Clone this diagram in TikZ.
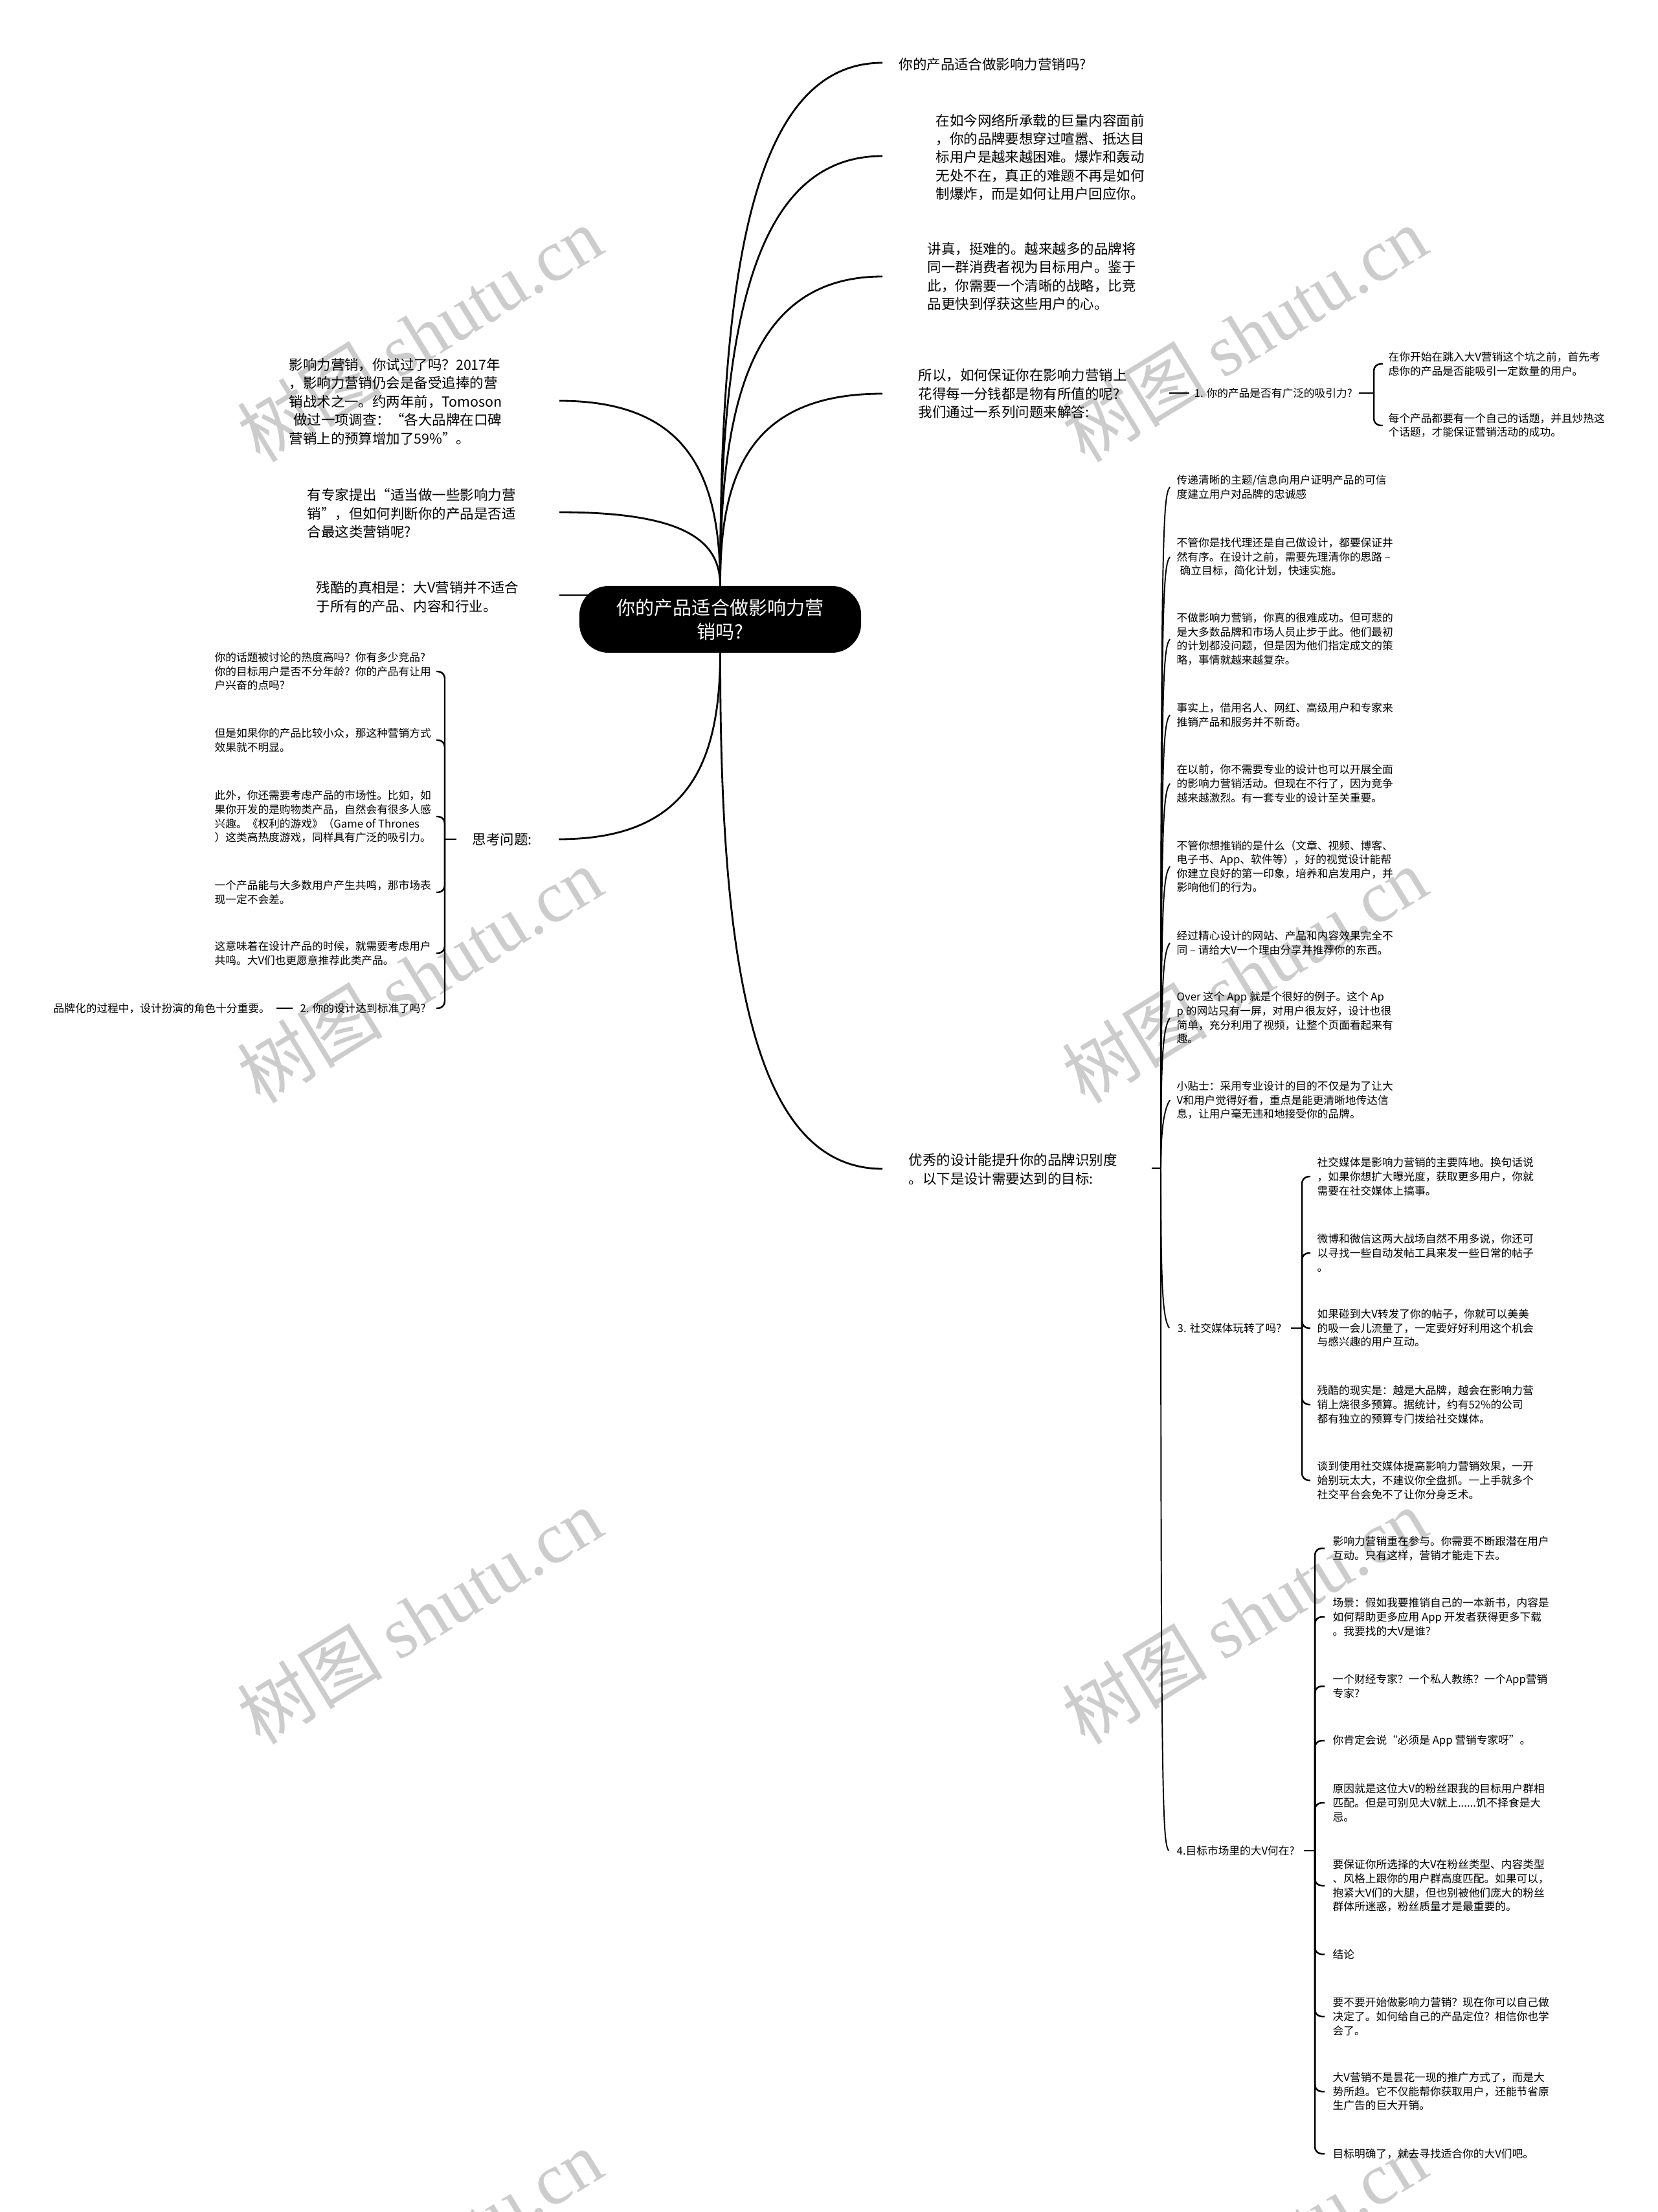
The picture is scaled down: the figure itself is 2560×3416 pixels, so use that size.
\documentclass[tikz,border=0pt]{standalone}
\usepackage{fontspec}
\setmainfont{Noto Sans CJK SC}
\newfontfamily\wmserif{Liberation Serif}
\usetikzlibrary{calc}
\begin{document}
\begin{tikzpicture}[x=0.01cm,y=-0.01cm,
  lvone/.style={anchor=west, inner sep=0pt, align=left, font=\fontsize{6.1pt}{8.1pt}\selectfont},
  lvthree/.style={anchor=west, inner sep=0pt, align=left, font=\fontsize{4.75pt}{6.15pt}\selectfont},
  pill/.style={fill=black, text=white, rounded corners=12.8pt, minimum width=4.35cm, minimum height=1.03cm, inner sep=0pt, align=center, font=\fontsize{8.25pt}{10.5pt}\selectfont},
  mainline/.style={line width=0.8pt},
  twoline/.style={line width=0.75pt},
  bracel/.style={line width=0.7pt, rounded corners=3pt},
  thincurve/.style={line width=0.55pt},
  wmk/.style={text=black!20, inner sep=0pt, rotate=31.5, font=\fontsize{32pt}{32pt}\selectfont}
]
\fill[white] (0,0) rectangle (2560,3416);
\useasboundingbox (0,0) rectangle (2560,3416);

% watermarks
\foreach \wy in {516,1506,2496,3486}{
  \node[wmk] at (648,\wy) {树图 {\wmserif shutu.cn}};
  \node[wmk] at (1922,\wy) {树图 {\wmserif shutu.cn}};
}

% central node
\node[pill] (C) at (1112.5,956.5) {你的产品适合做影响力营\\销吗?};

% right level one
\node[lvone] (R1) at (1388,99) {你的产品适合做影响力营销吗?};
\node[lvone] (R2) at (1445,243) {在如今网络所承载的巨量内容面前\\，你的品牌要想穿过喧嚣、抵达目\\标用户是越来越困难。爆炸和轰动\\无处不在，真正的难题不再是如何\\制爆炸，而是如何让用户回应你。};
\node[lvone] (R3) at (1432,427) {讲真，挺难的。越来越多的品牌将\\同一群消费者视为目标用户。鉴于\\此，你需要一个清晰的战略，比竞\\品更快到俘获这些用户的心。};
\node[lvone] (R4) at (1418,608) {所以，如何保证你在影响力营销上\\花得每一分钱都是物有所值的呢?\\我们通过一系列问题来解答:};
\node[lvone] (R5) at (1403,1806) {优秀的设计能提升你的品牌识别度\\。以下是设计需要达到的目标:};

% left level one
\node[lvone] (L1) at (446,620) {影响力营销，你试过了吗？2017年\\，影响力营销仍会是备受追捧的营\\销战术之一。约两年前，Tomoson\\\hspace*{0.3em}做过一项调查：“各大品牌在口碑\\营销上的预算增加了59\%”。};
\node[lvone] (L2) at (474,793) {有专家提出“适当做一些影响力营\\销”，但如何判断你的产品是否适\\合最这类营销呢?};
\node[lvone] (L3) at (488,922) {残酷的真相是：大V营销并不适合\\于所有的产品、内容和行业。};
\node[lvone] (L4) at (729,1296) {思考问题:};

% curve ends
\coordinate (eR1) at ($(R1.west)+(-25,-2)$);
\coordinate (eR2) at ($(R2.west)+(-82,-2)$);
\coordinate (eR3) at ($(R3.west)+(-69,0)$);
\coordinate (eR4) at ($(R4.west)+(-55,0)$);
\coordinate (eR5) at ($(R5.west)+(-40,-1)$);
\coordinate (eL1) at ($(L1.west)+(418,-1)$);
\coordinate (eL2) at ($(L2.west)+(390,-2)$);
\coordinate (eL3) at ($(L3.west)+(376,-3)$);
\coordinate (eL4) at ($(L4.west)+(134,0)$);

\draw[mainline] (C.north) .. controls (1112,420) and (1162,97) .. (eR1);
\draw[mainline] (C.north) .. controls (1112,507) and (1162,241) .. (eR2);
\draw[mainline] (C.north) .. controls (1112,618) and (1162,427) .. (eR3);
\draw[mainline] (C.north) .. controls (1112,727) and (1162,608) .. (eR4);
\draw[mainline] (C.north) .. controls (1112,733) and (1062,619) .. (eL1);
\draw[mainline] (C.north) .. controls (1112,837) and (1062,791) .. (eL2);
\draw[mainline] (eL3) -- ($(C.west|-eL3)+(25,0)$);
\draw[mainline] (C.south) .. controls (1112,1181) and (1062,1296) .. (eL4);
\draw[mainline] (C.south) .. controls (1112,1486) and (1162,1805) .. (eR5);

% --- branch 1 (under R4)
\node[lvthree] (N1) at (1844,607) {1. 你的产品是否有广泛的吸引力?};
\node[lvthree] (N1a) at (2144,562) {在你开始在跳入大V营销这个坑之前，首先考\\虑你的产品是否能吸引一定数量的用户。};
\node[lvthree] (N1b) at (2144,657) {每个产品都要有一个自己的话题，并且炒热这\\个话题，才能保证营销活动的成功。};
\coordinate (j1) at (2122,607);
\draw[twoline] ($(R4.west)+(388,-1)$) -- ($(N1.west)+(-7,0)$);
\draw[twoline] ($(N1.east)+(10,0)$) -- (j1);
\foreach \c in {N1a,N1b} \draw[bracel] (j1) |- ($(\c.west)+(-8,0)$);

% --- design list (under R5)
\coordinate (j5) at (1793,1804);
\draw[twoline] ($(R5.west)+(376,-2)$) -- (j5);
\node[lvthree] (D1) at (1817,752) {传递清晰的主题/信息向用户证明产品的可信\\度建立用户对品牌的忠诚感};
\node[lvthree] (D2) at (1817,860) {不管你是找代理还是自己做设计，都要保证井\\然有序。在设计之前，需要先理清你的思路 –\\\hspace*{0.3em}确立目标，简化计划，快速实施。};
\node[lvthree] (D3) at (1817,987) {不做影响力营销，你真的很难成功。但可悲的\\是大多数品牌和市场人员止步于此。他们最初\\的计划都没问题，但是因为他们指定成文的策\\略，事情就越来越复杂。};
\node[lvthree] (D4) at (1817,1104) {事实上，借用名人、网红、高级用户和专家来\\推销产品和服务并不新奇。};
\node[lvthree] (D5) at (1817,1210) {在以前，你不需要专业的设计也可以开展全面\\的影响力营销活动。但现在不行了，因为竞争\\越来越激烈。有一套专业的设计至关重要。};
\node[lvthree] (D6) at (1817,1338) {不管你想推销的是什么（文章、视频、博客、\\电子书、App、软件等），好的视觉设计能帮\\你建立良好的第一印象，培养和启发用户，并\\影响他们的行为。};
\node[lvthree] (D7) at (1817,1456) {经过精心设计的网站、产品和内容效果完全不\\同 – 请给大V一个理由分享并推荐你的东西。};
\node[lvthree] (D8) at (1817,1572) {Over 这个 App 就是个很好的例子。这个 Ap\\p 的网站只有一屏，对用户很友好，设计也很\\简单，充分利用了视频，让整个页面看起来有\\趣。};
\node[lvthree] (D9) at (1817,1699) {小贴士：采用专业设计的目的不仅是为了让大\\V和用户觉得好看，重点是能更清晰地传达信\\息，让用户毫无违和地接受你的品牌。};
\foreach \k in {1,...,9}{
  \draw[thincurve] (j5) .. controls ($(j5|-D\k.west)+(0,60)$) and ($(j5|-D\k.west)+(3,16)$) .. ($(D\k.west)+(-10,0)$);
}

% --- social media
\node[lvthree] (S0) at (1818,2051) {3. 社交媒体玩转了吗?};
\node[lvthree] (T0) at (1817,2858) {4.目标市场里的大V何在?};
\foreach \c in {S0,T0}{
  \draw[thincurve] (j5) .. controls ($(j5|-\c.west)+(0,-60)$) and ($(j5|-\c.west)+(3,-16)$) .. ($(\c.west)+(-12,0)$);
}
\coordinate (j3) at (2011,2051);
\draw[twoline] ($(S0.east)+(14,0)$) -- (j3);
\node[lvthree] (S1) at (2034,1817) {社交媒体是影响力营销的主要阵地。换句话说\\，如果你想扩大曝光度，获取更多用户，你就\\需要在社交媒体上搞事。};
\node[lvthree] (S2) at (2034,1935) {微博和微信这两大战场自然不用多说，你还可\\以寻找一些自动发帖工具来发一些日常的帖子\\。};
\node[lvthree] (S3) at (2034,2051) {如果碰到大V转发了你的帖子，你就可以美美\\的吸一会儿流量了，一定要好好利用这个机会\\与感兴趣的用户互动。};
\node[lvthree] (S4) at (2034,2169) {残酷的现实是：越是大品牌，越会在影响力营\\销上烧很多预算。据统计，约有52\%的公司\\都有独立的预算专门拨给社交媒体。};
\node[lvthree] (S5) at (2034,2286) {谈到使用社交媒体提高影响力营销效果，一开\\始别玩太大，不建议你全盘抓。一上手就多个\\社交平台会免不了让你分身乏术。};
\foreach \k in {1,...,5} \draw[bracel] (j3) |- ($(S\k.west)+(-10,0)$);

% --- target market
\coordinate (j4) at (2031,2858);
\draw[twoline] ($(T0.east)+(14,0)$) -- (j4);
\node[lvthree] (T1) at (2058,2391) {影响力营销重在参与。你需要不断跟潜在用户\\互动。只有这样，营销才能走下去。};
\node[lvthree] (T2) at (2058,2497) {场景：假如我要推销自己的一本新书，内容是\\如何帮助更多应用 App 开发者获得更多下载\\。我要找的大V是谁?};
\node[lvthree] (T3) at (2058,2604) {一个财经专家？一个私人教练？一个App营销\\专家?};
\node[lvthree] (T4) at (2058,2688) {你肯定会说“必须是 App 营销专家呀”。};
\node[lvthree] (T5) at (2058,2784) {原因就是这位大V的粉丝跟我的目标用户群相\\匹配。但是可别见大V就上......饥不择食是大\\忌。};
\node[lvthree] (T6) at (2058,2912) {要保证你所选择的大V在粉丝类型、内容类型\\、风格上跟你的用户群高度匹配。如果可以，\\抱紧大V们的大腿，但也别被他们庞大的粉丝\\群体所迷惑，粉丝质量才是最重要的。};
\node[lvthree] (T7) at (2058,3018) {结论};
\node[lvthree] (T8) at (2058,3114) {要不要开始做影响力营销？现在你可以自己做\\决定了。如何给自己的产品定位？相信你也学\\会了。};
\node[lvthree] (T9) at (2058,3230) {大V营销不是昙花一现的推广方式了，而是大\\势所趋。它不仅能帮你获取用户，还能节省原\\生广告的巨大开销。};
\node[lvthree] (T10) at (2058,3326) {目标明确了，就去寻找适合你的大V们吧。};
\foreach \k in {1,...,10} \draw[bracel] (j4) |- ($(T\k.west)+(-12,0)$);

% --- left: thinking questions
\coordinate (jL) at (687,1296);
\draw[twoline] ($(L4.west)+(-24,0)$) -- (jL);
\node[lvthree] (F1) at (331,1037) {你的话题被讨论的热度高吗？你有多少竞品?\\你的目标用户是否不分年龄？你的产品有让用\\户兴奋的点吗?};
\node[lvthree] (F2) at (331,1143) {但是如果你的产品比较小众，那这种营销方式\\效果就不明显。};
\node[lvthree] (F3) at (331,1261) {此外，你还需要考虑产品的市场性。比如，如\\果你开发的是购物类产品，自然会有很多人感\\兴趣。《权利的游戏》（Game of Thrones\\）这类高热度游戏，同样具有广泛的吸引力。};
\node[lvthree] (F4) at (331,1378) {一个产品能与大多数用户产生共鸣，那市场表\\现一定不会差。};
\node[lvthree] (F5) at (331,1472) {这意味着在设计产品的时候，就需要考虑用户\\共鸣。大V们也更愿意推荐此类产品。};
\node[lvthree] (F6) at (463,1557) {2. 你的设计达到标准了吗?};
\node[lvthree] (F7) at (82,1557) {品牌化的过程中，设计扮演的角色十分重要。};
\foreach \k in {1,...,6} \draw[bracel] (jL) |- ($(jL|-F\k.west)+(-13,0)$);
\draw[twoline] ($(F7.east)+(10,0)$) -- ($(F6.west)+(-11,0)$);
\end{tikzpicture}
\end{document}
